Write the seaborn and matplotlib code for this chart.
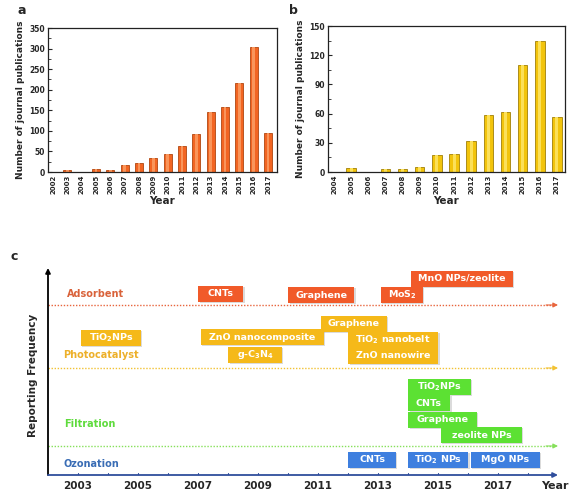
import matplotlib
matplotlib.use("Agg")
import matplotlib.pyplot as plt
from matplotlib.ticker import MultipleLocator
import seaborn as sns
import pandas as pd

# ---- publication counts ----
years_a = [2002, 2003, 2004, 2005, 2006, 2007, 2008, 2009, 2010, 2011, 2012, 2013, 2014, 2015, 2016, 2017]
pubs_a = [1, 4, 1, 7, 6, 17, 23, 33, 44, 64, 92, 146, 159, 217, 305, 94]

years_b = [2004, 2005, 2006, 2007, 2008, 2009, 2010, 2011, 2012, 2013, 2014, 2015, 2016, 2017]
pubs_b = [0.5, 4, 0, 3, 3, 5, 17, 19, 32, 59, 62, 110, 135, 57]

# ---- timeline of nanomaterials per treatment technology ----
ads_labels = ["CNTs", "Graphene", "MoS$_2$", "MnO NPs/zeolite"]
ads_start = [2007.0, 2010.0, 2013.1, 2014.1]
ads_end = [2008.5, 2012.2, 2014.5, 2017.5]

pho_labels = ["TiO$_2$NPs", "ZnO nanocomposite", "g-C$_3$N$_4$", "Graphene", "TiO$_2$ nanobelt", "ZnO nanowire"]
pho_start = [2003.1, 2007.1, 2008.0, 2011.1, 2012.0, 2012.0]
pho_end = [2005.1, 2011.2, 2009.8, 2013.3, 2015.0, 2015.0]

fil_labels = ["TiO$_2$NPs", "CNTs", "Graphene", "zeolite NPs"]
fil_start = [2014.0, 2014.0, 2014.0, 2015.1]
fil_end = [2016.1, 2015.4, 2016.3, 2017.8]

ozo_labels = ["CNTs", "TiO$_2$ NPs", "MgO NPs"]
ozo_start = [2012.0, 2014.0, 2016.1]
ozo_end = [2013.6, 2016.0, 2018.4]

year_ticks = [2003, 2005, 2007, 2009, 2011, 2013, 2015, 2017]

# vertical stacking of the boxes inside each band (layout only)
ads_rows = [181, 180, 180, 196.5]
pho_rows = [137, 138, 120.5, 151.5, 135.5, 119]
fil_rows = [88.5, 72, 55, 40]
ozo_rows = [15, 15, 15]

sns.set_theme(style="white")
plt.rcParams["font.family"] = ["DejaVu Sans"]
plt.rcParams["font.weight"] = "bold"
plt.rcParams["mathtext.default"] = "bf"

W, H = 571, 496
fig = plt.figure(figsize=(W / 100, H / 100), dpi=100)


def px_axes(x0, y0, x1, y1):
    return fig.add_axes([x0 / W, 1 - y1 / H, (x1 - x0) / W, (y1 - y0) / H])


def bar_panel(ax, years, vals, color, edge, light, ymax, step, minor, xr):
    df = pd.DataFrame({"Year": [str(y) for y in years], "Count": vals})
    sns.barplot(data=df, x="Year", y="Count", color=color, ax=ax, width=0.55,
                edgecolor=edge, linewidth=0.6, saturation=1)
    sns.barplot(data=df, x="Year", y="Count", color=light, ax=ax, width=0.18,
                linewidth=0, saturation=1)
    ax.set_xlim(*xr)
    ax.set_ylim(0, ymax)
    ax.yaxis.set_major_locator(MultipleLocator(step))
    ax.yaxis.set_minor_locator(MultipleLocator(minor))
    ax.tick_params(axis="y", which="major", direction="in", length=3, width=0.8,
                   labelsize=5.5, pad=2, left=True)
    ax.tick_params(axis="y", which="minor", direction="in", length=1.8, width=0.6, left=True)
    ax.tick_params(axis="x", length=0, labelsize=5, pad=2)
    for lab in ax.get_xticklabels():
        lab.set_rotation(90)
        lab.set_fontweight("bold")
    for lab in ax.get_yticklabels():
        lab.set_fontweight("bold")
    for s in ax.spines.values():
        s.set_color("#222222")
        s.set_linewidth(0.9)
    ax.set_xlabel("Year", fontsize=7.5, fontweight="bold", labelpad=1)
    ax.set_ylabel("Number of journal publications", fontsize=6.5, fontweight="bold", labelpad=3)


ax_a = px_axes(48, 28, 277, 172)
bar_panel(ax_a, years_a, pubs_a, "#F26522", "#B0460F", "#F9955A", 350, 50, 25, (-0.35, 15.62))

ax_b = px_axes(328, 26, 565, 172)
bar_panel(ax_b, years_b, pubs_b, "#F2C40C", "#A08008", "#FBE05A", 150, 30, 15, (-0.35, 13.47))

fig.text(22 / W, 1 - 11 / H, "a", fontsize=9, fontweight="bold", ha="center", va="center")
fig.text(293 / W, 1 - 11 / H, "b", fontsize=9, fontweight="bold", ha="center", va="center")
fig.text(14 / W, 1 - 256 / H, "c", fontsize=9, fontweight="bold", ha="center", va="center")

# ---- panel c ----
ax_c = px_axes(48, 270, 558, 475)
ax_c.set_xlim(2002, 2019)
ax_c.set_ylim(0, 205)
ax_c.axis("off")

arrow_kw = dict(arrowstyle="-|>", mutation_scale=7, shrinkA=0, shrinkB=0)
ax_c.annotate("", xy=(2002, 207), xytext=(2002, 0),
              arrowprops=dict(color="black", lw=1.3, **arrow_kw), annotation_clip=False)
ax_c.annotate("", xy=(2019, 0), xytext=(2002, 0),
              arrowprops=dict(color="#2F4E9C", lw=1.3, **arrow_kw), annotation_clip=False)
for y in range(2003, 2019):
    ax_c.plot([y, y], [0, 2.5], color="#2F4E9C", lw=0.8)

bands = [
    (170, "#E8653D"),
    (107, "#F2C233"),
    (29, "#86E05A"),
]
for yv, col in bands:
    ax_c.plot([2002, 2018.8], [yv, yv], color=col, lw=1.0, ls=(0, (1, 1.2)))
    ax_c.annotate("", xy=(2019, yv), xytext=(2018.6, yv),
                  arrowprops=dict(color=col, lw=0.8, **arrow_kw), annotation_clip=False)

cat_text = [
    ("Adsorbent", 2002.63, 181, "#D9623A"),
    ("Photocatalyst", 2002.5, 120, "#EDB02A"),
    ("Filtration", 2002.53, 51, "#5EDB3C"),
    ("Ozonation", 2002.53, 11, "#3A6DB5"),
]
for txt, x, y, col in cat_text:
    ax_c.text(x, y, txt, color=col, fontsize=7, fontweight="bold", ha="left", va="center")


def timeline(labels, start, end, rows, color):
    widths = [e - s for s, e in zip(start, end)]
    # soft drop shadow
    ax_c.barh([r - 1.2 for r in rows], widths, left=[s + 0.05 for s in start], height=16,
              color="#9a9a9a", alpha=0.35, linewidth=0)
    ax_c.barh(rows, widths, left=start, height=16, color=color, linewidth=0)
    for lab, s, w, r in zip(labels, start, widths, rows):
        ax_c.text(s + w / 2, r, lab, color="white", fontsize=6.8, fontweight="bold",
                  ha="center", va="center")


timeline(ads_labels, ads_start, ads_end, ads_rows, "#F15A29")
timeline(pho_labels, pho_start, pho_end, pho_rows, "#F5B919")
timeline(fil_labels, fil_start, fil_end, fil_rows, "#5CE133")
timeline(ozo_labels, ozo_start, ozo_end, ozo_rows, "#3E7FDF")

for y in year_ticks:
    ax_c.text(y, -11, str(y), fontsize=7.5, fontweight="bold", ha="center", va="center")
ax_c.text(2018.9, -11, "Year", fontsize=8, fontweight="bold", ha="center", va="center")
ax_c.text(2001.5, 100, "Reporting Frequency", rotation=90, fontsize=7.5,
          fontweight="bold", ha="center", va="center")

fig.savefig("out.png", dpi=100)
